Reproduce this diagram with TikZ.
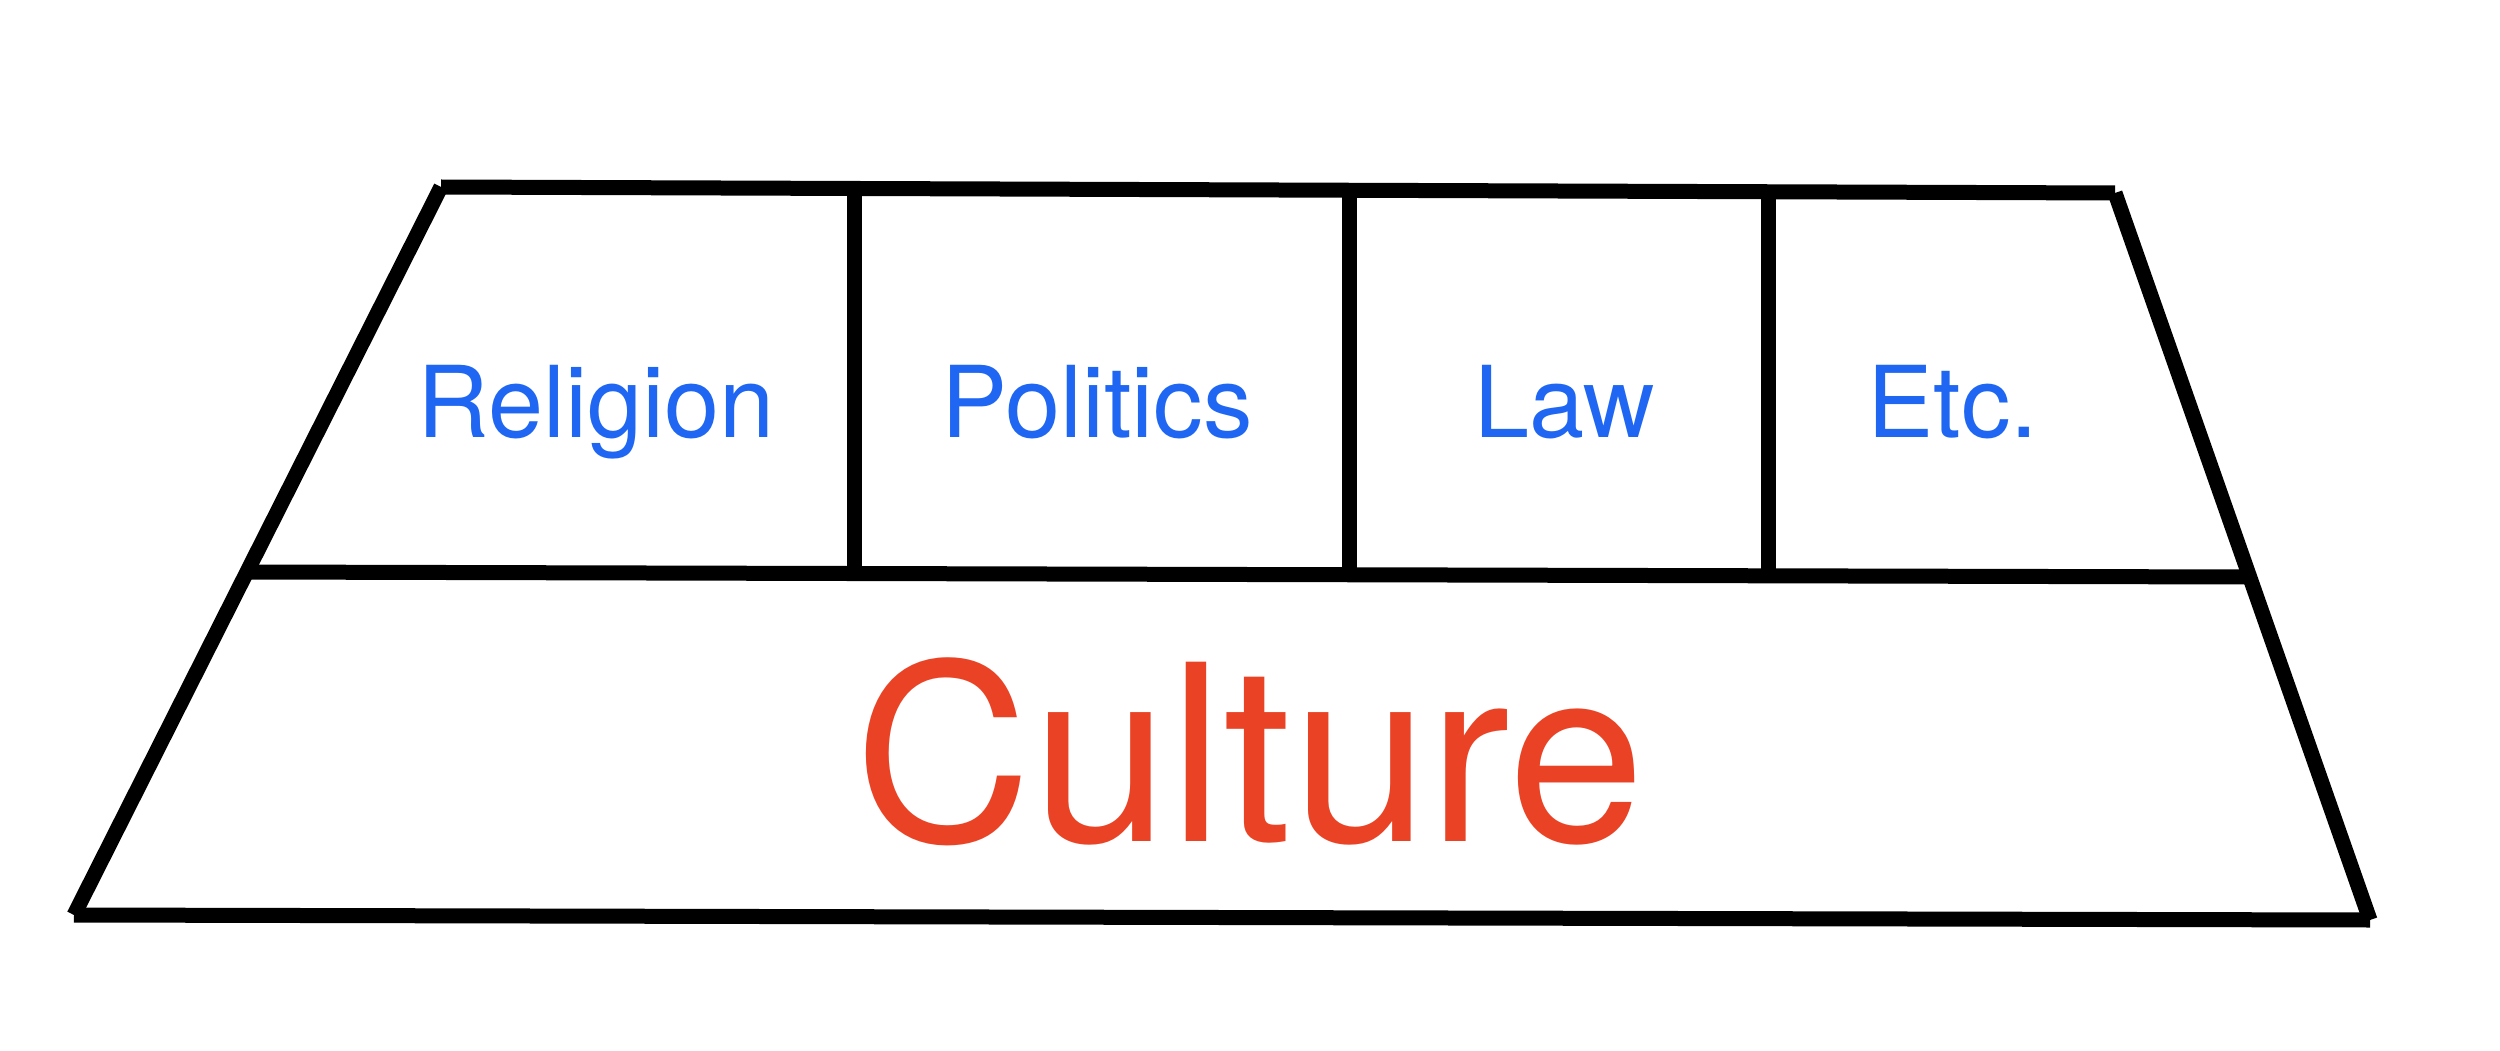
\documentclass[tikz,border=0pt]{standalone}
\usepackage{fontspec}
\setmainfont{TeX Gyre Heros}
\usetikzlibrary{positioning}
\definecolor{pillarblue}{RGB}{31,102,242}
\definecolor{culturered}{RGB}{234,66,37}
\tikzstyle{frame}=[draw=black,line width=1.5mm,line cap=butt]
\tikzstyle{pillar}=[text=pillarblue,anchor=base,inner sep=0pt,font=\fontsize{28.2}{32}\selectfont]
\tikzstyle{ground}=[text=culturered,anchor=base,inner sep=0pt,font=\fontsize{70}{80}\selectfont]

\begin{document}
\begin{tikzpicture}

    \useasboundingbox (0,0) rectangle (25,10.5);

    % Ecken
    \coordinate (tl) at (4.41,8.63);
    \coordinate (tr) at (21.15,8.57);
    \coordinate (bl) at (0.74,1.35);
    \coordinate (br) at (23.70,1.30);
    \coordinate (ml) at (2.47,4.78);
    \coordinate (mr) at (22.50,4.73);
    \coordinate (s1top) at (8.54,8.62);
    \coordinate (s1bot) at (8.54,4.77);
    \coordinate (s2top) at (13.49,8.60);
    \coordinate (s2bot) at (13.49,4.75);
    \coordinate (s3top) at (17.68,8.58);
    \coordinate (s3bot) at (17.68,4.74);

    % Rahmen
    \draw [frame] (tl) -- (tr);
    \draw [frame] (tl) -- (bl);
    \draw [frame] (tr) -- (br);
    \draw [frame] (bl) -- (br);
    \draw [frame] (ml) -- (mr);
    \draw [frame] (s1top) -- (s1bot);
    \draw [frame] (s2top) -- (s2bot);
    \draw [frame] (s3top) -- (s3bot);

    % Texte
    \node[pillar] (religion) at (5.96,6.13) {Religion};
    \node[pillar] (politics) at (10.97,6.13) {Politics};
    \node[pillar] (law) at (15.65,6.13) {Law};
    \node[pillar] (etc) at (19.53,6.13) {Etc.};
    \node[ground] (culture) at (12.50,2.09) {Culture};

\end{tikzpicture}
\end{document}
